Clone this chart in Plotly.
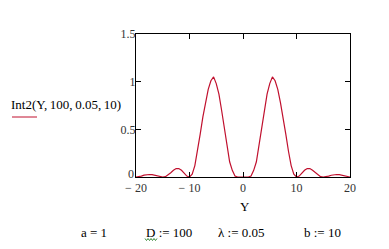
import plotly.graph_objects as go

# Data
Y = [-20, -19.5, -19, -18.5, -18, -17.5, -17, -16.5, -16, -15.5, -15, -14.5, -14, -13.5, -13,
     -12.5, -12, -11.5, -11, -10.5, -10, -9.5, -9, -8.5, -8, -7.5, -7, -6.5, -6, -5.5, -5,
     -4.5, -4, -3.5, -3, -2.5, -2, -1.5, -1, -0.5, 0, 0.5, 1, 1.5, 2, 2.5, 3, 3.5, 4, 4.5,
     5, 5.5, 6, 6.5, 7, 7.5, 8, 8.5, 9, 9.5, 10, 10.5, 11, 11.5, 12, 12.5, 13, 13.5, 14,
     14.5, 15, 15.5, 16, 16.5, 17, 17.5, 18, 18.5, 19, 19.5, 20]
intensity = [0.0, 0.003, 0.01, 0.019, 0.025, 0.026, 0.024, 0.018, 0.01, 0.002, 0.0, 0.003, 0.02,
             0.045, 0.07, 0.088, 0.088, 0.07, 0.04, 0.01, 0.0, 0.03, 0.12, 0.27, 0.45, 0.63,
             0.78, 0.92, 1.01, 1.05, 0.98, 0.87, 0.70, 0.53, 0.33, 0.16, 0.07, 0.01, 0.0, 0.0,
             0.0, 0.0, 0.0, 0.01, 0.07, 0.16, 0.33, 0.53, 0.70, 0.87, 0.98, 1.05, 1.01, 0.92,
             0.78, 0.63, 0.45, 0.27, 0.12, 0.03, 0.0, 0.01, 0.04, 0.07, 0.088, 0.088, 0.07,
             0.045, 0.02, 0.003, 0.0, 0.002, 0.01, 0.018, 0.024, 0.026, 0.025, 0.019, 0.01,
             0.003, 0.0]

x_ticks = [-20, -10, 0, 10, 20]
x_tick_text = ["\u2212 20", "\u2212 10", "0", "10", "20"]
y_ticks = [0.5, 1, 1.5]
y_tick_text = ["0.5", "1", "1.5"]
y_zero_text = "0"

fn_label = "Int2(Y,\u2009100,\u20090.05,\u200910)"
x_label = "Y"
params = [("a = 1", 94), ("D := 100", 169), ("\u03bb := 0.05", 241), ("b := 10", 322)]

W, H = 389, 249
L, R, T, B = 136, 350, 34, 177
SERIF = "Liberation Serif, Times New Roman, serif"
TICK_FONT = dict(family=SERIF, size=12, color="#333333")


def px(x):
    return (x - L) / (R - L)


def py(y):
    return (B - y) / (B - T)


fig = go.Figure()
fig.add_trace(go.Scatter(x=Y, y=intensity, mode="lines",
                         line=dict(color="#c0102e", width=1.2), showlegend=False,
                         hoverinfo="skip"))

axis_common = dict(showline=True, linecolor="black", linewidth=1, mirror="ticks",
                   ticks="inside", ticklen=5, tickcolor="black", tickwidth=1,
                   showgrid=False, zeroline=False, tickfont=TICK_FONT)

fig.update_xaxes(range=[-20, 20], tickvals=x_ticks, ticktext=x_tick_text, **axis_common)
fig.update_yaxes(range=[0, 1.5], tickvals=y_ticks, ticktext=y_tick_text,
                 ticklabelstandoff=-3, **axis_common)

annotations = [
    dict(text=fn_label, x=px(66), y=py(104), xref="paper", yref="paper",
         showarrow=False, xanchor="center", yanchor="middle",
         font=dict(family=SERIF, size=13, color="black")),
    dict(text=x_label, x=px(245), y=py(206), xref="paper", yref="paper",
         showarrow=False, xanchor="center", yanchor="middle",
         font=dict(family=SERIF, size=13, color="black")),
    dict(text=y_zero_text, x=px(135.5), y=py(173.5), xref="paper", yref="paper",
         showarrow=False, xanchor="right", yanchor="middle", font=TICK_FONT),
]
for txt, cx in params:
    annotations.append(dict(text=txt, x=px(cx), y=py(232), xref="paper", yref="paper",
                            showarrow=False, xanchor="center", yanchor="middle",
                            font=dict(family=SERIF, size=13, color="black")))

# wavy green underline under D
pts = []
xs = 145
i = 0
while xs <= 157:
    yy = 238.5 if i % 2 == 0 else 240.5
    pts.append((px(xs), py(yy)))
    xs += 1.5
    i += 1
path = "M " + " L ".join(f"{a:.4f},{b:.4f}" for a, b in pts)

shapes = [
    dict(type="line", xref="paper", yref="paper", x0=px(12), x1=px(37), y0=py(117),
         y1=py(117), line=dict(color="#c0102e", width=1)),
    dict(type="path", xref="paper", yref="paper", path=path,
         line=dict(color="#3a8a3a", width=1)),
]

fig.update_layout(width=W, height=H, margin=dict(l=L, r=W - R, t=T, b=H - B),
                  paper_bgcolor="white", plot_bgcolor="white",
                  annotations=annotations, shapes=shapes)

fig.write_html("out.html")
